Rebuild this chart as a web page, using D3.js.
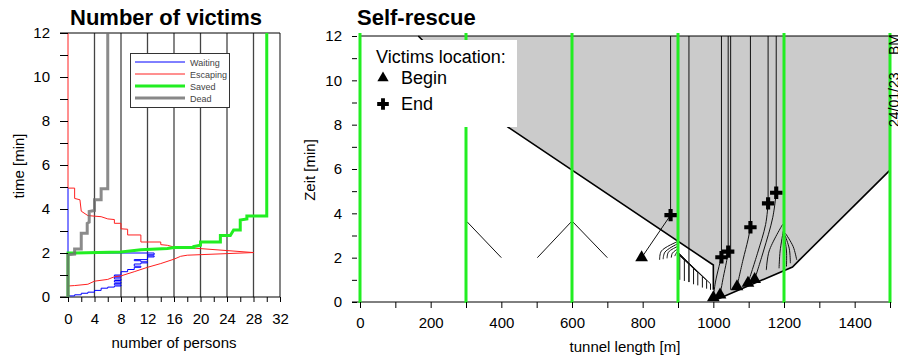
<!DOCTYPE html>
<html>
<head>
<meta charset="utf-8">
<script src="https://cdn.jsdelivr.net/npm/d3@7"></script>
<style>
  body { margin: 0; background: #fff; }
  svg { display: block; }
  text { font-family: "Liberation Sans", Arial, sans-serif; }
</style>
</head>
<body>
<svg id="chart" width="898" height="360"></svg>
<script>
// ---------- left panel: number of victims ----------
var personTicks = [0, 4, 8, 12, 16, 20, 24, 28, 32];
var gridPersons = [4, 8, 12, 16, 20, 24, 28, 32];
var timeTicks = [0, 2, 4, 6, 8, 10, 12];

// [persons, minutes] - waiting is a step series (count changes at given minute)
var waiting = [[0,0],[1,0.05],[2,0.1],[3,0.17],[4,0.22],[5,0.3],[6,0.4],[7,0.45],[8,0.5],[7,0.55],[8,0.62],
  [7,0.68],[8,0.75],[7,0.82],[8,0.9],[7,0.95],[8,1.0],[9,1.15],[10,1.25],[11,1.35],[10,1.4],[11,1.5],
  [12,1.55],[11,1.6],[10,1.65],[12,1.7],[13,1.82],[12,1.87],[13,1.92],[0,2.0],[0,4.95]];
var escaping = [[0,0.5],[1,0.52],[3,0.58],[4,0.72],[6,0.8],[7,0.92],[8,0.96],[10,1.15],[12,1.35],[14,1.52],
  [16,1.72],[17,1.85],[18,1.9],[28,2.02],[20,2.2],[19,2.22],[17,2.27],[16,2.27],[15,2.35],[14,2.38],[14,2.5],
  [11,2.5],[11,2.82],[9,2.82],[9,3.08],[8,3.1],[8,3.35],[7,3.35],[7,3.52],[6,3.55],[5,3.65],[3,3.7],[2,3.9],
  [1.8,4.42],[1,4.48],[1,4.95],[0,4.95],[0,12]];
var saved = [[0,0],[0,2.0],[1,2.0],[8,2.05],[11,2.15],[15,2.2],[16,2.25],[19,2.25],[19,2.3],[20,2.35],[20,2.5],
  [23,2.5],[23,2.8],[24.5,2.8],[25,3.05],[26,3.05],[26,3.5],[27,3.55],[27,3.68],[30,3.68],[30,12]];
var dead = [[0,0],[0,1.92],[1,1.95],[1,2.18],[2,2.18],[2,2.9],[2.9,2.9],[2.9,3.35],[3.2,3.4],[3.2,3.89],
  [4,3.93],[4,4.42],[5,4.42],[5,4.92],[6,4.92],[6,12]];

var seriesNames = ["Waiting", "Escaping", "Saved", "Dead"];
var seriesColors = ["#0000ff", "#ff2020", "#22ee22", "#6e6e6e"];
var seriesWidths = [1, 1, 3, 3];

// ---------- right panel: self-rescue ----------
var exits = [0, 300, 600, 900, 1200, 1500];
var lengthTicks = [0, 200, 400, 600, 800, 1000, 1200, 1400];
var zeitTicks = [0, 2, 4, 6, 8, 10, 12];

// smoke front [m, min]
var smokeLeft = [[165,12],[418,7.9],[1000,1.67],[1000,0.55]];
var smokeRight = [[1008,0.1],[1224,1.58],[1244,1.9],[1500,5.95]];

var beginPos = [797, 1000, 1019, 1067, 1098, 1117];
var beginTime = [2.0, 0.2, 0.32, 0.7, 0.85, 1.02];
var endPos = [879, 1023, 1042, 1105, 1155, 1178];
var endTime = [3.92, 2.02, 2.27, 3.37, 4.45, 4.93];

// victims who did not make it: begin -> end, then stay
var victimPaths = [
  [[797,2.0],[879,3.92]],
  [[1000,0.2],[1006,0.9],[1016,1.6],[1023,2.02]],
  [[1019,0.32],[1028,1.1],[1037,1.8],[1042,2.27]],
  [[1067,0.7],[1084,1.9],[1098,2.8],[1105,3.37]],
  [[1098,0.85],[1125,2.2],[1148,3.5],[1155,4.45]],
  [[1117,1.02],[1142,2.3],[1168,3.8],[1178,4.93]]
];

// other walkers
var walkerPaths = [
  [[400,2.0],[303,3.62]],
  [[502,2.0],[598,3.62]],
  [[700,2.0],[602,3.62]],
  [[848,1.9],[853,2.3],[898,2.72]],
  [[858,1.93],[863,2.25],[898,2.62]],
  [[869,1.97],[873,2.25],[898,2.5]],
  [[881,2.0],[884,2.2],[898,2.38]],
  [[891,2.07],[893,2.15],[898,2.27]],
  [[1150,1.44],[1158,2.3],[1196,3.5]],
  [[1186,1.52],[1189,2.3],[1198,3.2]],
  [[1207,1.6],[1207,2.3],[1201,2.95]],
  [[1218,1.75],[1215,2.4],[1203,3.0]],
  [[1236,1.9],[1226,2.5],[1204,3.1]]
];
var waitPaths = [
  [[905,1.0],[905,2.1],[899,2.2]],
  [[918,0.95],[918,1.9],[899,2.2]],
  [[931,0.9],[931,1.7],[899,2.2]],
  [[944,0.8],[944,1.5],[899,2.25]],
  [[956,0.75],[956,1.33],[899,2.2]],
  [[969,0.65],[969,1.15],[899,2.25]],
  [[981,0.6],[981,0.98],[899,2.2]],
  [[992,0.55],[992,0.82],[899,2.25]],
  [[931,0.9],[931,12]],
  [[1049,0.55],[1049,12]]
];

var svg = d3.select("#chart");

// ===== left panel =====
var xL = d3.scaleLinear().domain([0, 32]).range([68, 280]);
var yL = d3.scaleLinear().domain([0, 12]).range([297, 33]);

svg.append("text").attr("x", 166).attr("y", 25).attr("text-anchor", "middle")
  .attr("font-size", 22).attr("font-weight", "bold").text("Number of victims");

svg.selectAll(".gridL").data(gridPersons).enter().append("line")
  .attr("x1", d => xL(d)).attr("x2", d => xL(d))
  .attr("y1", yL(12)).attr("y2", yL(0))
  .attr("stroke", "#444").attr("stroke-width", 1.3);

svg.append("line").attr("x1", 60).attr("x2", 280).attr("y1", yL(12)).attr("y2", yL(12)).attr("stroke", "#000");
svg.append("line").attr("x1", 60).attr("x2", 280).attr("y1", yL(0)).attr("y2", yL(0)).attr("stroke", "#000");

var lineL = d3.line().x(d => xL(d[0])).y(d => yL(d[1]));
var stepL = d3.line().x(d => xL(d[0])).y(d => yL(d[1])).curve(d3.curveStepBefore);
[waiting, escaping, saved, dead].forEach(function (s, i) {
  svg.append("path").attr("d", i === 0 ? stepL(s) : lineL(s)).attr("fill", "none")
    .attr("stroke", seriesColors[i]).attr("stroke-width", seriesWidths[i])
    .attr("stroke-opacity", i === 3 ? 0.8 : 1)
    .attr("stroke-linejoin", "miter");
});

var axLy = svg.append("g").attr("transform", "translate(" + xL(0) + ",0)")
  .call(d3.axisLeft(yL).tickValues(d3.range(0, 13, 1)).tickSize(8).tickPadding(10)
    .tickFormat(d => timeTicks.indexOf(d) >= 0 ? d : ""));
var axLx = svg.append("g").attr("transform", "translate(0," + yL(0) + ")")
  .call(d3.axisBottom(xL).tickValues(d3.range(0, 33, 2)).tickSize(5).tickPadding(11)
    .tickFormat(d => personTicks.indexOf(d) >= 0 ? d : ""));
[axLy, axLx].forEach(function (g) {
  g.select(".domain").remove();
  g.selectAll("text").attr("font-size", 15).attr("font-family", "Liberation Sans, Arial, sans-serif").attr("fill", "#000");
  g.selectAll("line").attr("stroke", "#000");
});

svg.append("text").attr("transform", "translate(24,166) rotate(-90)").attr("text-anchor", "middle")
  .attr("font-size", 15).text("time [min]");
svg.append("text").attr("x", 174).attr("y", 348).attr("text-anchor", "middle")
  .attr("font-size", 15).text("number of persons");

// legend
var lg = svg.append("g");
lg.append("rect").attr("x", 130.5).attr("y", 53.5).attr("width", 99).attr("height", 54)
  .attr("fill", "#fff").attr("stroke", "#333");
seriesNames.forEach(function (n, i) {
  var yy = 62 + i * 12;
  lg.append("line").attr("x1", 135).attr("x2", 185).attr("y1", yy).attr("y2", yy)
    .attr("stroke", i === 3 ? "#888" : seriesColors[i]).attr("stroke-width", seriesWidths[i]);
  lg.append("text").attr("x", 190).attr("y", yy + 3.5).attr("font-size", 9).attr("fill", "#444").text(n);
});

// ===== right panel =====
var xR = d3.scaleLinear().domain([0, 1500]).range([360, 890]);
var yR = d3.scaleLinear().domain([0, 12]).range([302, 36]);

svg.append("text").attr("x", 357).attr("y", 25).attr("font-size", 22).attr("font-weight", "bold").text("Self-rescue");

var smokeArea = smokeLeft.concat(smokeRight, [[1500, 12]]);
svg.append("path").attr("d", d3.line().x(d => xR(d[0])).y(d => yR(d[1]))(smokeArea) + "Z")
  .attr("fill", "#cbcbcb").attr("stroke", "none");

var lineR = d3.line().x(d => xR(d[0])).y(d => yR(d[1]));
var curveR = d3.line().x(d => xR(d[0])).y(d => yR(d[1])).curve(d3.curveCatmullRom);

svg.selectAll(".walk").data(walkerPaths).enter().append("path")
  .attr("d", d => curveR(d)).attr("fill", "none").attr("stroke", "#111").attr("stroke-width", 1);
svg.selectAll(".wait").data(waitPaths).enter().append("path")
  .attr("d", d => lineR(d)).attr("fill", "none").attr("stroke", "#111").attr("stroke-width", 1);
svg.selectAll(".vict").data(victimPaths).enter().append("path")
  .attr("d", d => curveR(d)).attr("fill", "none").attr("stroke", "#111").attr("stroke-width", 1);
svg.selectAll(".stay").data(endPos).enter().append("line")
  .attr("x1", d => xR(d)).attr("x2", d => xR(d))
  .attr("y1", (d, i) => yR(endTime[i])).attr("y2", yR(12))
  .attr("stroke", "#111").attr("stroke-width", 1);

svg.append("path").attr("d", lineR(smokeLeft)).attr("fill", "none").attr("stroke", "#000").attr("stroke-width", 1.6);
svg.append("path").attr("d", lineR(smokeRight)).attr("fill", "none").attr("stroke", "#000").attr("stroke-width", 1.6);

svg.append("line").attr("x1", xR(0)).attr("x2", xR(1500)).attr("y1", yR(12)).attr("y2", yR(12)).attr("stroke", "#000");
svg.append("line").attr("x1", 352).attr("x2", xR(1500)).attr("y1", yR(0)).attr("y2", yR(0)).attr("stroke", "#000");

svg.selectAll(".exit").data(exits).enter().append("line")
  .attr("x1", d => xR(d)).attr("x2", d => xR(d))
  .attr("y1", yR(12) - 3).attr("y2", yR(0) + 1)
  .attr("stroke", "#22ee22").attr("stroke-width", 3);

var tri = d3.symbol().type(d3.symbolTriangle).size(70);
var cross = d3.symbol().type(d3.symbolCross).size(85);
svg.selectAll(".begin").data(beginPos).enter().append("path")
  .attr("d", tri).attr("fill", "#000")
  .attr("transform", (d, i) => "translate(" + xR(d) + "," + yR(beginTime[i]) + ")");
svg.selectAll(".end").data(endPos).enter().append("path")
  .attr("d", cross).attr("fill", "#000")
  .attr("transform", (d, i) => "translate(" + xR(d) + "," + yR(endTime[i]) + ")");

// legend box
svg.append("rect").attr("x", 362).attr("y", 40).attr("width", 155).attr("height", 87).attr("fill", "#fff");
svg.append("text").attr("x", 376).attr("y", 63).attr("font-size", 18).text("Victims location:");
svg.append("path").attr("d", d3.symbol().type(d3.symbolTriangle).size(55))
  .attr("transform", "translate(383,78)").attr("fill", "#000");
svg.append("text").attr("x", 401).attr("y", 84).attr("font-size", 18).text("Begin");
svg.append("path").attr("d", d3.symbol().type(d3.symbolCross).size(75))
  .attr("transform", "translate(383,104)").attr("fill", "#000");
svg.append("text").attr("x", 401).attr("y", 110).attr("font-size", 18).text("End");

var axRy = svg.append("g").attr("transform", "translate(357,0)")
  .call(d3.axisLeft(yR).tickValues(d3.range(0, 13, 1)).tickSize(5).tickPadding(10)
    .tickFormat(d => zeitTicks.indexOf(d) >= 0 ? d : ""));
var axRx = svg.append("g").attr("transform", "translate(0," + yR(0) + ")")
  .call(d3.axisBottom(xR).tickValues(d3.range(0, 1501, 100)).tickSize(6).tickPadding(9)
    .tickFormat(d => lengthTicks.indexOf(d) >= 0 ? d : ""));
[axRy, axRx].forEach(function (g) {
  g.select(".domain").remove();
  g.selectAll("text").attr("font-size", 15).attr("font-family", "Liberation Sans, Arial, sans-serif").attr("fill", "#000");
  g.selectAll("line").attr("stroke", "#000");
});

svg.append("text").attr("transform", "translate(315,170) rotate(-90)").attr("text-anchor", "middle")
  .attr("font-size", 15).text("Zeit [min]");
svg.append("text").attr("x", 625).attr("y", 352).attr("text-anchor", "middle")
  .attr("font-size", 15).text("tunnel length [m]");

// date stamp on the right edge (cut by the border, as in the original)
svg.append("text").attr("transform", "translate(899,127) rotate(-90)").attr("font-size", 14).text("24/01/23");
svg.append("text").attr("transform", "translate(899,55) rotate(-90)").attr("font-size", 14).text("BM");
</script>
</body>
</html>
